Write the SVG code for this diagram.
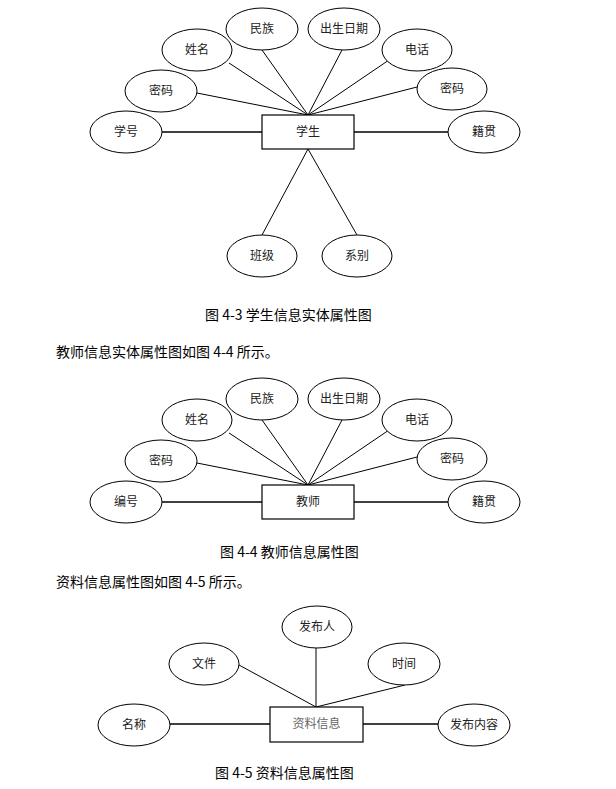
<svg xmlns="http://www.w3.org/2000/svg" width="616" height="789" viewBox="0 0 616 789">
<style>
.e{fill:#fff;stroke:#000;stroke-width:1}
.r{fill:#fff;stroke:#000;stroke-width:1.2}
.l{stroke:#000;stroke-width:1;fill:none}
.h{stroke:#000;stroke-width:1.4;fill:none}
.t{font-family:"Noto Sans CJK SC","Noto Sans",sans-serif;font-size:12px;fill:#222;text-anchor:middle}
.g{fill:#666}
.c{font-family:"Noto Sans CJK SC","Noto Sans",sans-serif;font-size:14px;fill:#000}
</style>
<rect width="616" height="789" fill="#fff"/>

<!-- Diagram 4-3 -->
<g id="connectors-43">
<line class="h" x1="162" y1="132" x2="262" y2="132"/>
<line class="h" x1="354" y1="132" x2="448" y2="132"/>
<line class="l" x1="197" y1="93" x2="308" y2="115"/>
<line class="l" x1="229" y1="63" x2="308" y2="115"/>
<line class="l" x1="262" y1="50" x2="308" y2="115"/>
<line class="l" x1="342" y1="50" x2="308" y2="115"/>
<line class="l" x1="389" y1="60" x2="308" y2="115"/>
<line class="l" x1="417" y1="87" x2="308" y2="115"/>
<line class="l" x1="308" y1="149" x2="262" y2="235"/>
<line class="l" x1="308" y1="149" x2="357" y2="235"/>
</g>
<g id="xuesheng"><rect class="r" x="262" y="115" width="92" height="34"/><text class="t" x="308" y="136">学生</text></g>
<g id="xuehao"><ellipse class="e" cx="126" cy="132" rx="36" ry="21"/><text class="t" x="126" y="136">学号</text></g>
<g id="mima1"><ellipse class="e" cx="161" cy="91" rx="36" ry="21"/><text class="t" x="161" y="95">密码</text></g>
<g id="xingming1"><ellipse class="e" cx="197" cy="50" rx="35" ry="21"/><text class="t" x="197" y="54">姓名</text></g>
<g id="minzu1"><ellipse class="e" cx="262" cy="29" rx="36" ry="21"/><text class="t" x="262" y="33">民族</text></g>
<g id="chusheng1"><ellipse class="e" cx="344" cy="29" rx="36" ry="21"/><text class="t" x="344" y="33">出生日期</text></g>
<g id="dianhua1"><ellipse class="e" cx="417" cy="50" rx="35" ry="21"/><text class="t" x="417" y="54">电话</text></g>
<g id="mima2"><ellipse class="e" cx="452" cy="89" rx="35" ry="21"/><text class="t" x="452" y="93">密码</text></g>
<g id="jiguan1"><ellipse class="e" cx="484" cy="132" rx="36" ry="21"/><text class="t" x="484" y="136">籍贯</text></g>
<g id="banji"><ellipse class="e" cx="262" cy="256" rx="35" ry="21"/><text class="t" x="262" y="260">班级</text></g>
<g id="xibie"><ellipse class="e" cx="357" cy="256" rx="35" ry="21"/><text class="t" x="357" y="260">系别</text></g>
<text class="c" x="205" y="320">图 4-3 学生信息实体属性图</text>
<text class="c" x="56" y="357">教师信息实体属性图如图 4-4 所示。</text>

<!-- Diagram 4-4 -->
<g id="connectors-44">
<line class="h" x1="162" y1="502" x2="262" y2="502"/>
<line class="h" x1="354" y1="502" x2="448" y2="502"/>
<line class="l" x1="197" y1="463" x2="308" y2="485"/>
<line class="l" x1="229" y1="433" x2="308" y2="485"/>
<line class="l" x1="262" y1="420" x2="308" y2="485"/>
<line class="l" x1="342" y1="420" x2="308" y2="485"/>
<line class="l" x1="389" y1="430" x2="308" y2="485"/>
<line class="l" x1="417" y1="457" x2="308" y2="485"/>
</g>
<g id="jiaoshi"><rect class="r" x="262" y="485" width="92" height="34"/><text class="t" x="308" y="506">教师</text></g>
<g id="bianhao"><ellipse class="e" cx="126" cy="502" rx="36" ry="21"/><text class="t" x="126" y="506">编号</text></g>
<g id="mima3"><ellipse class="e" cx="161" cy="461" rx="36" ry="21"/><text class="t" x="161" y="465">密码</text></g>
<g id="xingming2"><ellipse class="e" cx="197" cy="420" rx="35" ry="21"/><text class="t" x="197" y="424">姓名</text></g>
<g id="minzu2"><ellipse class="e" cx="262" cy="399" rx="36" ry="21"/><text class="t" x="262" y="403">民族</text></g>
<g id="chusheng2"><ellipse class="e" cx="344" cy="399" rx="36" ry="21"/><text class="t" x="344" y="403">出生日期</text></g>
<g id="dianhua2"><ellipse class="e" cx="417" cy="420" rx="35" ry="21"/><text class="t" x="417" y="424">电话</text></g>
<g id="mima4"><ellipse class="e" cx="452" cy="459" rx="35" ry="21"/><text class="t" x="452" y="463">密码</text></g>
<g id="jiguan2"><ellipse class="e" cx="484" cy="502" rx="36" ry="21"/><text class="t" x="484" y="506">籍贯</text></g>
<text class="c" x="220" y="557">图 4-4 教师信息属性图</text>
<text class="c" x="56" y="587">资料信息属性图如图 4-5 所示。</text>

<!-- Diagram 4-5 -->
<g id="connectors-45">
<line class="h" x1="169" y1="724" x2="270" y2="724"/>
<line class="h" x1="363" y1="724" x2="438" y2="724"/>
<line class="l" x1="316" y1="648" x2="316" y2="707"/>
<line class="l" x1="239" y1="665" x2="316" y2="707"/>
<line class="l" x1="405" y1="685" x2="316" y2="707"/>
</g>
<g id="ziliao"><rect class="r" x="270" y="707" width="93" height="35"/><text class="t g" x="316.5" y="728">资料信息</text></g>
<g id="fabuRen"><ellipse class="e" cx="317" cy="627" rx="35" ry="21"/><text class="t" x="317" y="631">发布人</text></g>
<g id="wenjian"><ellipse class="e" cx="204" cy="664" rx="35" ry="21"/><text class="t" x="204" y="668">文件</text></g>
<g id="shijian"><ellipse class="e" cx="404" cy="664" rx="36" ry="21"/><text class="t" x="404" y="668">时间</text></g>
<g id="mingcheng"><ellipse class="e" cx="134" cy="725" rx="36" ry="21"/><text class="t" x="134" y="729">名称</text></g>
<g id="fabuneirong"><ellipse class="e" cx="474" cy="725" rx="36" ry="21"/><text class="t" x="474" y="729">发布内容</text></g>
<text class="c" x="215" y="778">图 4-5 资料信息属性图</text>
</svg>
